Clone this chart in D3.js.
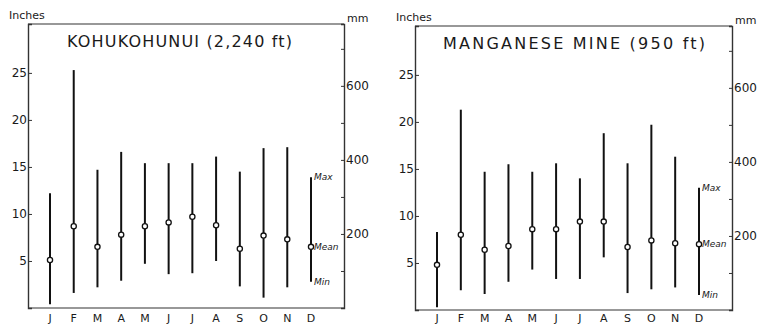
<!DOCTYPE html>
<html>
<head>
<meta charset="utf-8">
<script src="https://cdn.jsdelivr.net/npm/d3@7"></script>
<style>
  body { margin: 0; background: #fff; }
  svg text { fill: #1a1a1a; }
</style>
</head>
<body>
<svg id="chart" width="767" height="324"></svg>
<script>
const months = ["J", "F", "M", "A", "M", "J", "J", "A", "S", "O", "N", "D"];
const inchTicks = [5, 10, 15, 20, 25];
const mmTicks = [200, 400, 600];
const mmMinorTicks = [100, 300, 500, 700];

// Kohukohunui (2,240 ft), inches
const kohuMax  = [12.2, 25.3, 14.7, 16.6, 15.4, 15.4, 15.4, 16.1, 14.5, 17.0, 17.1, 13.9];
const kohuMean = [5.1, 8.7, 6.5, 7.8, 8.7, 9.1, 9.7, 8.8, 6.3, 7.7, 7.3, 6.5];
const kohuMin  = [0.4, 1.6, 2.2, 2.9, 4.7, 3.6, 3.7, 5.0, 2.3, 1.1, 2.2, 2.8];

// Manganese Mine (950 ft), inches
const mangMax  = [8.3, 21.3, 14.7, 15.5, 14.7, 15.6, 14.0, 18.8, 15.6, 19.7, 16.3, 13.0];
const mangMean = [4.8, 8.0, 6.4, 6.8, 8.6, 8.6, 9.4, 9.4, 6.7, 7.4, 7.1, 7.0];
const mangMin  = [0.3, 2.1, 1.7, 3.0, 4.3, 3.3, 3.3, 5.6, 1.8, 2.2, 2.4, 1.6];

const svg = d3.select("#chart");

function drawPanel(opts) {
  const { left, right, top, bottom, title, titleX, titleW, maxV, meanV, minV } = opts;
  const g = svg.append("g");

  const x = d3.scalePoint()
    .domain(d3.range(12))
    .range([left + 22, right - 33]);

  const y = d3.scaleLinear()
    .domain([0, 30.2])
    .range([bottom, top]);

  const ymm = d3.scaleLinear()
    .domain([0, 30.2 * 25.4])
    .range([bottom, top]);

  // frame: top and bottom lines
  g.append("line")
    .attr("x1", left).attr("x2", right)
    .attr("y1", top).attr("y2", top)
    .attr("stroke", "#333").attr("stroke-width", 1.2);
  g.append("line")
    .attr("x1", left).attr("x2", right)
    .attr("y1", bottom).attr("y2", bottom)
    .attr("stroke", "#333").attr("stroke-width", 1.2);

  // left inch axis, ticks pointing in
  const yAxis = g.append("g")
    .attr("transform", "translate(" + left + ",0)")
    .call(d3.axisRight(y).tickValues(inchTicks).tickSize(4).tickFormat(""));
  yAxis.select(".domain").attr("stroke", "#333").attr("stroke-width", 1.4);
  yAxis.selectAll(".tick line").attr("stroke", "#333");

  g.selectAll("text.inch")
    .data(inchTicks)
    .enter()
    .append("text")
    .attr("class", "inch")
    .attr("x", left - 1)
    .attr("y", d => y(d) + 4)
    .attr("text-anchor", "end")
    .style("font", "12px 'DejaVu Sans', sans-serif")
    .text(d => d);

  // right mm axis, ticks pointing in
  const mmAxis = g.append("g")
    .attr("transform", "translate(" + right + ",0)")
    .call(d3.axisLeft(ymm).tickValues(mmTicks.concat(mmMinorTicks)).tickSize(3).tickFormat(""));
  mmAxis.select(".domain").attr("stroke", "#333").attr("stroke-width", 1.4);
  mmAxis.selectAll(".tick line").attr("stroke", "#333");

  g.selectAll("text.mm")
    .data(mmTicks)
    .enter()
    .append("text")
    .attr("class", "mm")
    .attr("x", right + 2)
    .attr("y", d => ymm(d) + 4)
    .style("font", "12px 'DejaVu Sans', sans-serif")
    .text(d => d);

  // unit labels
  g.append("text")
    .attr("x", left - 19).attr("y", top - 5)
    .style("font", "11px 'DejaVu Sans', sans-serif")
    .text("Inches");
  g.append("text")
    .attr("x", right + 3).attr("y", top - 2)
    .style("font", "11px 'DejaVu Sans', sans-serif")
    .text("mm");

  // title
  g.append("text")
    .attr("x", titleX)
    .attr("y", top + 23)
    .attr("textLength", titleW)
    .attr("lengthAdjust", "spacing")
    .style("font", "16px 'DejaVu Sans', sans-serif")
    .text(title);

  // month labels
  g.selectAll("text.month")
    .data(months)
    .enter()
    .append("text")
    .attr("class", "month")
    .attr("x", (d, i) => x(i))
    .attr("y", 322)
    .attr("text-anchor", "middle")
    .style("font", "11px 'DejaVu Sans', sans-serif")
    .text(d => d);

  // range lines
  g.selectAll("line.range")
    .data(d3.range(12))
    .enter()
    .append("line")
    .attr("class", "range")
    .attr("x1", i => x(i)).attr("x2", i => x(i))
    .attr("y1", i => y(maxV[i]))
    .attr("y2", i => y(minV[i]))
    .attr("stroke", "#111")
    .attr("stroke-width", 2);

  // mean markers
  g.selectAll("circle.mean")
    .data(d3.range(12))
    .enter()
    .append("circle")
    .attr("class", "mean")
    .attr("cx", i => x(i))
    .attr("cy", i => y(meanV[i]))
    .attr("r", 2.6)
    .attr("fill", "#fff")
    .attr("stroke", "#111")
    .attr("stroke-width", 1.3);

  // key on the December bar
  const k = 11;
  const keyData = [["Max", maxV[k]], ["Mean", meanV[k]], ["Min", minV[k]]];
  g.selectAll("text.key")
    .data(keyData)
    .enter()
    .append("text")
    .attr("class", "key")
    .attr("x", x(k) + 3)
    .attr("y", d => y(d[1]) + 3)
    .style("font", "italic 9px 'DejaVu Sans', sans-serif")
    .text(d => d[0]);
}

drawPanel({
  left: 28, right: 344, top: 24, bottom: 308,
  title: "KOHUKOHUNUI (2,240 ft)", titleX: 67, titleW: 225,
  maxV: kohuMax, meanV: kohuMean, minV: kohuMin
});

drawPanel({
  left: 415, right: 732, top: 26, bottom: 310,
  title: "MANGANESE MINE (950 ft)", titleX: 443, titleW: 262,
  maxV: mangMax, meanV: mangMean, minV: mangMin
});
</script>
</body>
</html>
